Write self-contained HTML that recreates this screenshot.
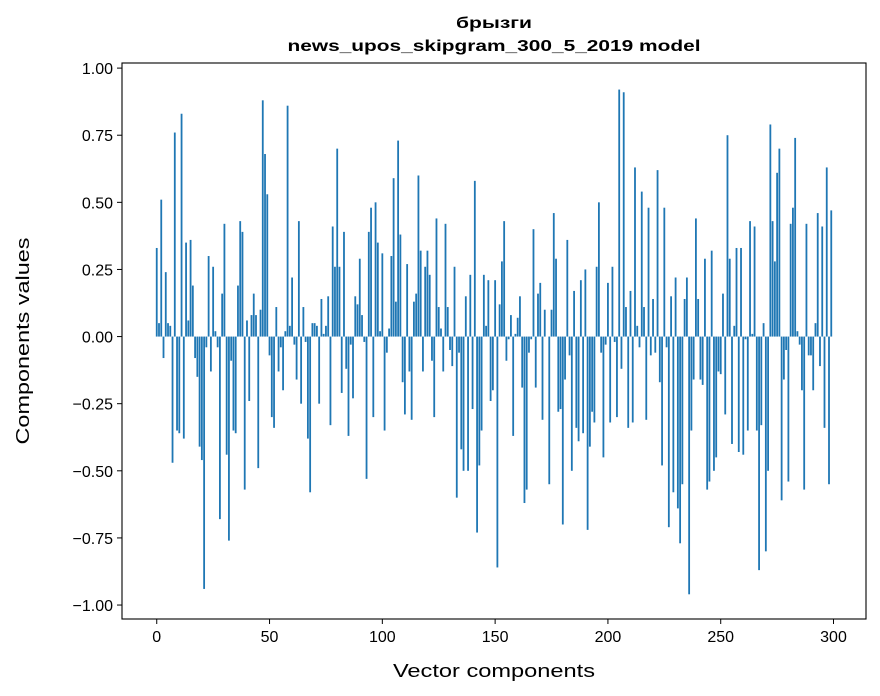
<!DOCTYPE html>
<html><head><meta charset="utf-8"><style>
body{margin:0;background:#fff;}
svg{display:block;font-family:"Liberation Sans","DejaVu Sans",sans-serif;}
</style></head><body>
<svg id="chart" width="880" height="696" viewBox="0 0 880 696" xmlns="http://www.w3.org/2000/svg">
<rect width="880" height="696" fill="#fff"/>
<text x="494" y="28" text-anchor="middle" font-size="16" font-weight="bold" fill="#000" textLength="76" lengthAdjust="spacingAndGlyphs">брызги</text>
<text x="494" y="51" text-anchor="middle" font-size="16" font-weight="bold" fill="#000" textLength="413" lengthAdjust="spacingAndGlyphs">news_upos_skipgram_300_5_2019 model</text>
<g id="bars"></g>
<g id="axes"></g>
<text x="494" y="677" text-anchor="middle" font-size="18" fill="#000" textLength="202" lengthAdjust="spacingAndGlyphs">Vector components</text>
<text transform="translate(29,341) rotate(-90)" text-anchor="middle" font-size="18" fill="#000" textLength="207" lengthAdjust="spacingAndGlyphs">Components values</text>
</svg>
<script>
const values = [0.33,0.05,0.51,-0.08,0.24,0.05,0.04,-0.47,0.76,-0.35,-0.36,0.83,-0.38,0.35,0.06,0.36,0.19,-0.08,-0.15,-0.41,-0.46,-0.94,-0.04,0.30,-0.13,0.26,0.02,-0.04,-0.68,0.16,0.42,-0.44,-0.76,-0.09,-0.35,-0.36,0.19,0.43,0.39,-0.57,0.06,-0.24,0.08,0.16,0.08,-0.49,0.10,0.88,0.68,0.53,
-0.07,-0.30,-0.34,0.11,-0.13,-0.04,-0.20,0.02,0.86,0.04,0.22,-0.03,-0.16,0.43,-0.25,0.11,-0.02,-0.38,-0.58,0.05,0.05,0.04,-0.25,0.14,0.01,0.04,0.15,-0.33,0.41,0.26,0.70,0.26,-0.21,0.39,-0.12,-0.37,-0.03,-0.23,0.15,0.12,0.29,0.08,-0.02,-0.53,0.39,0.48,-0.30,0.50,0.35,0.02,
0.31,-0.35,-0.06,0.03,0.30,0.59,0.13,0.73,0.38,-0.17,-0.29,0.27,-0.13,-0.31,0.13,0.16,0.60,0.32,-0.13,0.26,0.32,0.23,-0.09,-0.30,0.44,0.11,0.03,-0.13,0.42,0.11,-0.05,-0.11,0.26,-0.60,-0.06,-0.42,-0.50,0.15,-0.50,0.23,-0.27,0.58,-0.73,-0.48,-0.35,0.23,0.04,0.21,-0.24,-0.20,
0.21,-0.86,0.12,0.28,0.43,-0.09,-0.01,0.08,-0.37,0.01,0.07,0.15,-0.19,-0.62,-0.57,-0.06,-0.01,0.40,-0.19,0.16,0.20,-0.31,0.10,0.00,-0.55,0.10,0.46,0.29,-0.28,-0.27,-0.70,-0.16,0.36,-0.07,-0.50,0.17,-0.34,-0.39,0.21,-0.36,0.25,-0.72,-0.41,-0.28,-0.32,0.26,0.50,-0.06,-0.45,-0.03,
0.20,-0.32,0.26,-0.02,-0.30,0.92,-0.12,0.91,0.11,-0.34,0.17,-0.32,0.63,0.04,-0.04,0.54,0.11,-0.31,0.48,-0.07,0.14,-0.06,0.62,-0.17,-0.48,0.48,-0.04,-0.71,0.15,-0.58,0.22,-0.64,-0.77,-0.55,0.14,0.22,-0.96,-0.35,-0.16,0.44,0.14,-0.16,-0.18,0.29,-0.57,-0.54,0.32,-0.50,-0.45,-0.13,
-0.14,0.16,-0.29,0.75,0.29,-0.40,0.04,0.33,-0.43,0.33,-0.44,-0.01,-0.35,0.43,0.01,0.41,-0.35,-0.87,-0.33,0.05,-0.80,-0.50,0.79,0.43,0.28,0.61,0.70,-0.61,-0.16,-0.05,-0.54,0.42,0.48,0.74,0.02,-0.03,-0.20,-0.57,0.42,-0.07,-0.07,-0.20,0.05,0.46,-0.11,0.41,-0.34,0.63,-0.55,0.47];
const xTicks = [0,50,100,150,200,250,300];
const yTicks = [1.00,0.75,0.50,0.25,0.00,-0.25,-0.50,-0.75,-1.00];

const L=122,R=866,T=63,B=619;
const xmin=-15.4,xmax=314.4,ymin=-1.052,ymax=1.019;
const xs=v=>L+(v-xmin)/(xmax-xmin)*(R-L);
const ys=v=>T+(ymax-v)/(ymax-ymin)*(B-T);
const NS="http://www.w3.org/2000/svg";
const bars=document.getElementById('bars');
values.forEach((v,i)=>{
  const r=document.createElementNS(NS,'rect');
  const x0=xs(i-0.4),x1=xs(i+0.4);
  const y0=ys(Math.max(v,0)),y1=ys(Math.min(v,0));
  r.setAttribute('x',x0);r.setAttribute('width',x1-x0);
  r.setAttribute('y',y0);r.setAttribute('height',Math.max(y1-y0,0.01));
  r.setAttribute('fill','#1f77b4');
  
  
  bars.appendChild(r);
});
const ax=document.getElementById('axes');
const frame=document.createElementNS(NS,'rect');
frame.setAttribute('x',L);frame.setAttribute('y',T);frame.setAttribute('width',R-L);frame.setAttribute('height',B-T);
frame.setAttribute('fill','none');frame.setAttribute('stroke','#000');frame.setAttribute('stroke-width','1.1');


ax.appendChild(frame);
xTicks.forEach(t=>{
  const x=xs(t);
  const l=document.createElementNS(NS,'line');
  l.setAttribute('x1',x);l.setAttribute('x2',x);l.setAttribute('y1',B);l.setAttribute('y2',B+5);l.setAttribute('stroke','#000');
  
  
  ax.appendChild(l);
  const tx=document.createElementNS(NS,'text');
  tx.setAttribute('x',x);tx.setAttribute('y',B+23);tx.setAttribute('text-anchor','middle');tx.setAttribute('font-size','16');
  tx.textContent=t;
  
  
  ax.appendChild(tx);
});
yTicks.forEach(t=>{
  const y=ys(t);
  const l=document.createElementNS(NS,'line');
  l.setAttribute('x1',L-5);l.setAttribute('x2',L);l.setAttribute('y1',y);l.setAttribute('y2',y);l.setAttribute('stroke','#000');
  
  
  ax.appendChild(l);
  const tx=document.createElementNS(NS,'text');
  tx.setAttribute('x',L-9);tx.setAttribute('y',y+6);tx.setAttribute('text-anchor','end');tx.setAttribute('font-size','16');
  tx.textContent=t.toFixed(2).replace('-','\u2212');
  
  
  ax.appendChild(tx);
});
</script>
</body></html>
